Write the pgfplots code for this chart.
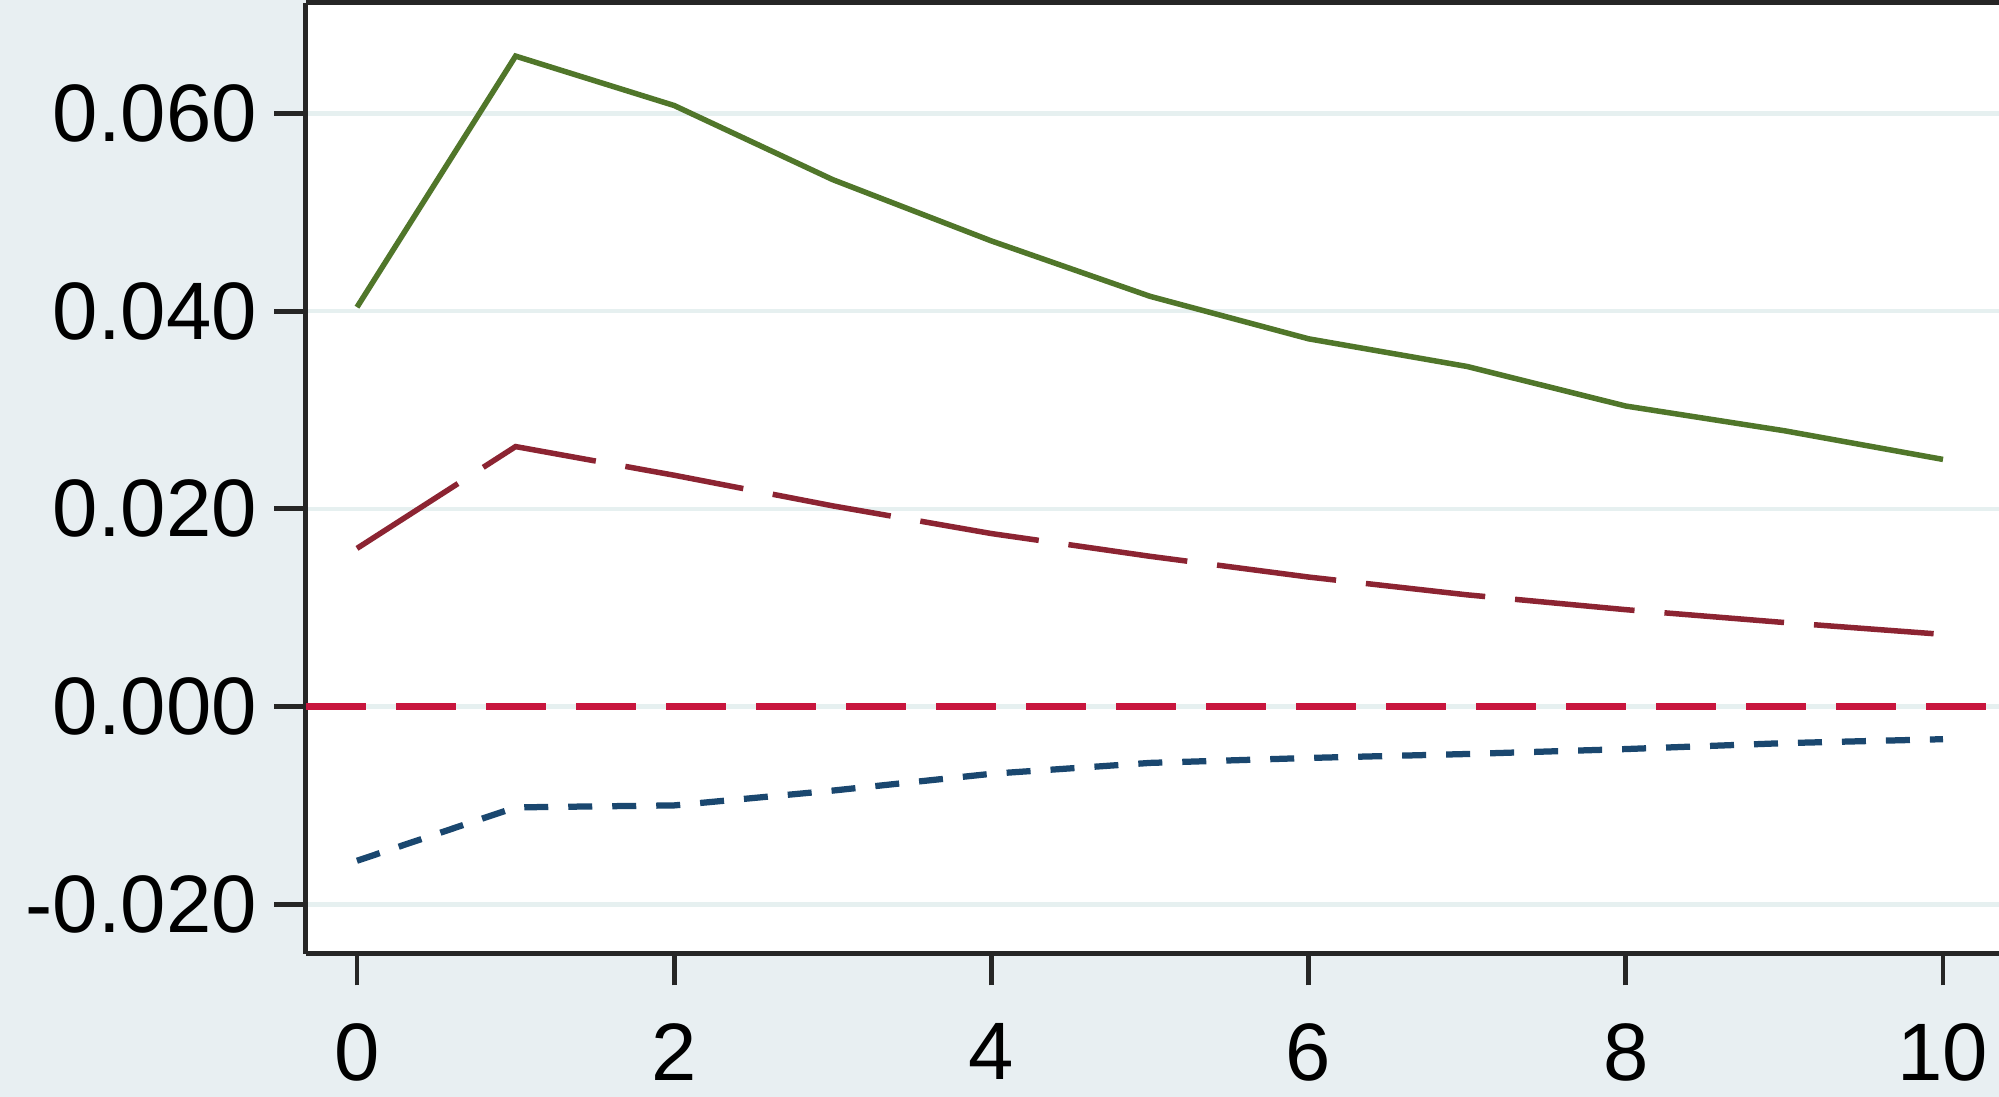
\documentclass[border=0pt]{standalone}
\usepackage{pgfplots}
\pgfplotsset{compat=1.18}
\usepackage{fontspec}
\setmainfont{Liberation Sans}
\definecolor{bg}{RGB}{232,239,242}
\definecolor{gridc}{RGB}{230,240,240}
\definecolor{fgreen}{RGB}{80,118,42}
\definecolor{maroonc}{RGB}{140,36,50}
\definecolor{crimsonc}{RGB}{200,22,62}
\definecolor{navyc}{RGB}{26,71,111}
\begin{document}
\begin{tikzpicture}
\path[use as bounding box] (-61.2pt,-28.6pt) rectangle (338.6pt,190.8pt);
\fill[bg] (-61.2pt,-28.6pt) rectangle (338.6pt,190.8pt);
\clip (-61.2pt,-28.6pt) rectangle (338.6pt,190.8pt);
\begin{axis}[
  at={(0,0)}, anchor=south west,
  scale only axis,
  width=338.6pt, height=190.3pt,
  xmin=-0.3216, xmax=10.353,
  ymin=-0.02503, ymax=0.07122,
  axis background/.style={fill=white},
  axis lines*=left,
  axis line style={line width=1pt, black!85},
  xtick={0,2,4,6,8,10},
  ytick={-0.02,0,0.02,0.04,0.06},
  yticklabels={-0.020,0.000,0.020,0.040,0.060},
  tick align=outside,
  major tick length=6.3pt,
  tick style={line width=0.95pt, black!85},
  ymajorgrids,
  grid style={line width=0.9pt, gridc},
  tick label style={font=\fontsize{16.3}{18}\selectfont},
  /pgf/number format/assume math mode=true,
  yticklabel style={xshift=0pt},
  xticklabel style={yshift=-4pt},
  clip=false,
]
\draw[line width=1.1pt, black!85] (rel axis cs:0,1) -- (rel axis cs:1.02,1);
\addplot[color=crimsonc, line width=1.3pt, dash pattern=on 12pt off 6pt] coordinates {(-0.3216,0) (10.353,0)};
\addplot[color=fgreen, line width=1.1pt] coordinates {
(0,0.0404) (1,0.0658) (2,0.0608) (3,0.0533) (4,0.0471) (5,0.0415) (6,0.0372) (7,0.0344) (8,0.0304) (9,0.0279) (10,0.0250)};
\addplot[color=maroonc, line width=1.1pt, dash pattern=on 24pt off 6pt] coordinates {
(0,0.0160) (1,0.0263) (2,0.0234) (3,0.0203) (4,0.0175) (5,0.0152) (6,0.0131) (7,0.0113) (8,0.0098) (9,0.0085) (10,0.0073)};
\addplot[color=navyc, line width=1.25pt, dash pattern=on 4.8pt off 4pt] coordinates {
(0,-0.0156) (1,-0.0102) (2,-0.0100) (3,-0.0085) (4,-0.0068) (5,-0.0057) (6,-0.0052) (7,-0.0048) (8,-0.0043) (9,-0.0037) (10,-0.0033)};
\end{axis}
\end{tikzpicture}
\end{document}
